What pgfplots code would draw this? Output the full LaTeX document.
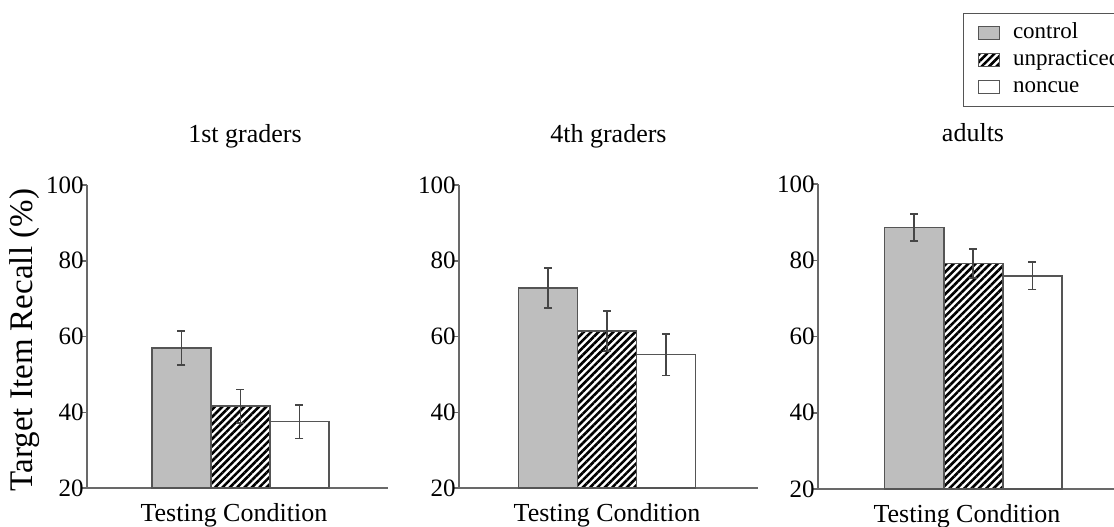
\documentclass[border=0pt]{standalone}
\usepackage{fontspec}
\setmainfont{Liberation Serif}
\usepackage{pgfplots}
\pgfplotsset{compat=1.18}
\usetikzlibrary{patterns.meta}
\definecolor{barfill}{RGB}{190,190,190}
\definecolor{edge}{RGB}{85,85,85}
\definecolor{axisgray}{RGB}{105,105,105}
\definecolor{errgray}{RGB}{70,70,70}

\pgfplotsset{
  panel/.style={
    scale only axis,
    anchor=south west,
    height=151.5pt,
    ymin=20, ymax=100,
    ytick={20,40,60,80,100},
    xtick=\empty,
    axis lines*=left,
    axis line style={axisgray, line width=0.75pt},
    tick style={axisgray, line width=0.75pt},
    tick align=outside,
    major tick length=3pt,
    /pgf/number format/assume math mode=true,
    yticklabel style={font=\fontsize{12.5}{14}\selectfont, inner sep=1pt, xshift=2.5pt},
    xlabel={Testing Condition},
    xlabel style={font=\fontsize{13}{15}\selectfont, anchor=north, yshift=-4pt},
    title style={font=\fontsize{13}{15}\selectfont, anchor=base, yshift=15.5pt},
    ybar, bar width=1,
    clip=false,
    every axis plot/.append style={
      legend image code/.code={
        \path (-4pt,0pt);
        \draw[##1] (0pt,-3.25pt) rectangle (10.5pt,3.25pt);
      }
    },
    error bars/y dir=both,
    error bars/y explicit,
    error bars/error bar style={errgray, line width=0.8pt},
    error bars/error mark options={rotate=90, mark size=2pt, errgray, line width=0.8pt},
  },
  ctrl/.style={fill=barfill, draw=edge, line width=0.75pt, bar shift=0pt},
  unp/.style={preaction={fill=white}, pattern={Lines[angle=45,distance=2.6pt,line width=1.3pt]}, pattern color=black, draw=edge, line width=0.75pt, bar shift=0pt},
  nonc/.style={fill=white, draw=edge, line width=0.75pt, bar shift=0pt},
}

\begin{document}
\begin{tikzpicture}
\useasboundingbox (0,0) rectangle (557pt,263pt);
\clip (0,0) rectangle (557pt,263pt);

% 1st graders
\begin{axis}[panel, at={(43.5pt,19pt)}, width=150.5pt, xmin=-0.6, xmax=4.5,
  title={1st graders}, title style={at={(axis description cs:0.525,1)}},
  xlabel style={at={(axis description cs:0.488,0)}},
  ylabel={Target Item Recall (\%)},
  ylabel style={font=\fontsize{16.5}{18}\selectfont, at={(axis description cs:-0.206,0.488)}, anchor=center}]
\addplot[ctrl] coordinates {(1,57.0) +- (0,4.5)};
\addplot[unp] coordinates {(2,41.6) +- (0,4.4)};
\addplot[nonc] coordinates {(3,37.5) +- (0,4.4)};
\end{axis}

% 4th graders
\begin{axis}[panel, at={(229.5pt,19pt)}, width=149.5pt, xmin=-0.51, xmax=4.56,
  title={4th graders}, title style={at={(axis description cs:0.5,1)}},
  xlabel style={at={(axis description cs:0.495,0)}}]
\addplot[ctrl] coordinates {(1,72.8) +- (0,5.3)};
\addplot[unp] coordinates {(2,61.5) +- (0,5.3)};
\addplot[nonc] coordinates {(3,55.2) +- (0,5.5)};
\end{axis}

% adults
\begin{axis}[panel, at={(409pt,18.5pt)}, width=153.5pt, height=152.5pt, xmin=-0.63, xmax=4.57,
  title={adults}, title style={at={(axis description cs:0.505,1)}},
  xlabel style={at={(axis description cs:0.485,0)}},
  legend style={at={(axis description cs:0.472,1.561)}, anchor=north west,
    draw=edge, line width=0.6pt, font=\fontsize{11.5}{13}\selectfont,
    inner sep=3pt, row sep=0pt, column sep=5pt,
    nodes={inner sep=1.5pt, text height=8pt, text depth=2.5pt, anchor=west}},
  legend cell align=left]
\addplot[ctrl] coordinates {(1,88.6) +- (0,3.5)};
\addplot[unp] coordinates {(2,79.2) +- (0,3.8)};
\addplot[nonc] coordinates {(3,75.9) +- (0,3.6)};
\legend{control, unpracticed, noncue}
\end{axis}
\end{tikzpicture}
\end{document}
